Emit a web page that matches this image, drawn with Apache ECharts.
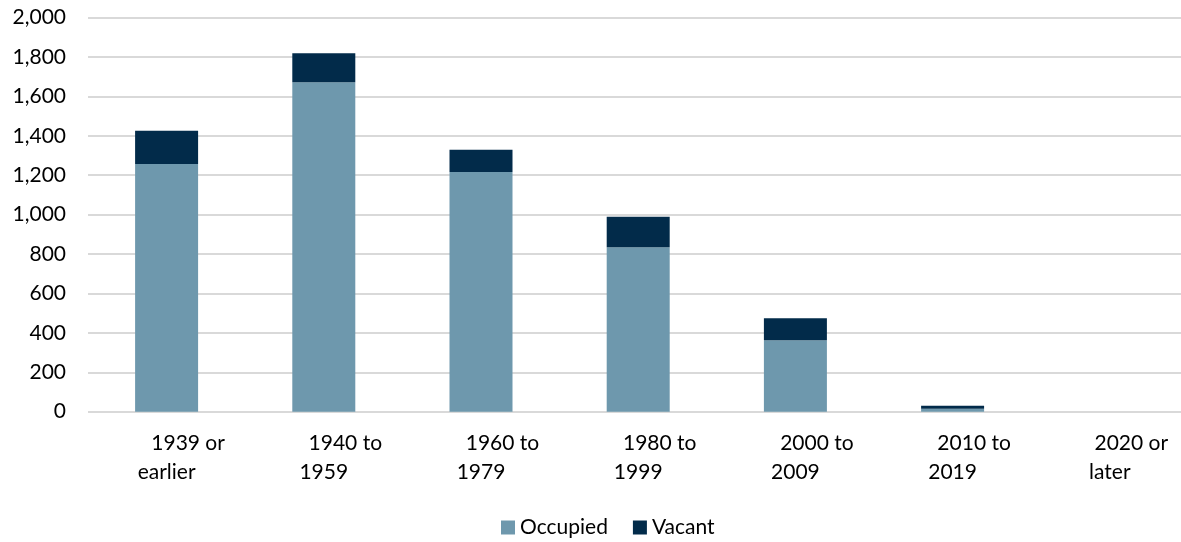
<!DOCTYPE html>
<html>
<head>
<meta charset="utf-8">
<script src="https://cdn.jsdelivr.net/npm/echarts@6/dist/echarts.min.js"></script>
<style>
html,body{margin:0;padding:0;background:#fff;overflow:hidden;}
#chart{width:1192px;height:542px;}
</style>
</head>
<body>
<div id="chart"></div>
<script>
const categoriesLine1 = ['1939 or', '1940 to', '1960 to', '1980 to', '2000 to', '2010 to', '2020 or'];
const categoriesLine2 = ['earlier', '1959', '1979', '1999', '2009', '2019', 'later'];
const occupied = [1257, 1671, 1216, 834, 362, 15, 0];
const vacant = [169, 147, 113, 155, 112, 15, 0];
const yTicks = { min: 0, max: 2000, interval: 200 };

const categories = categoriesLine1.map((a, i) => a + ' ' + categoriesLine2[i]);

const chart = echarts.init(document.getElementById('chart'));
const font = 'Lato';
chart.setOption({
  animation: false,
  textStyle: { fontFamily: font },
  grid: { left: 88, width: 1100.4, top: 17.5, bottom: 130.3, containLabel: false },
  legend: {
    left: 496, top: 512,
    itemWidth: 14, itemHeight: 14, itemGap: 25,
    icon: 'rect',
    textStyle: { fontFamily: font, fontSize: 21, color: '#000' },
    data: ['Occupied', 'Vacant']
  },
  xAxis: {
    type: 'category',
    data: categories,
    axisLine: { show: false },
    axisTick: { show: false },
    axisLabel: {
      interval: 0,
      margin: 17,
      formatter: function (v, i) {
        return '{a|' + categoriesLine1[i] + '}\n{b|' + categoriesLine2[i] + '}';
      },
      rich: {
        a: { fontFamily: font, fontSize: 21, color: '#000', lineHeight: 29, padding: [0, 0, 0, 43] },
        b: { fontFamily: font, fontSize: 21, color: '#000', lineHeight: 29 }
      }
    }
  },
  yAxis: {
    type: 'value',
    min: yTicks.min, max: yTicks.max, interval: yTicks.interval,
    axisLine: { show: false },
    axisTick: { show: false },
    axisLabel: {
      margin: 22,
      fontFamily: font, fontSize: 21, color: '#000',
      formatter: v => v.toLocaleString('en-US')
    },
    splitLine: { lineStyle: { color: '#D9D9D9', width: 2 } }
  },
  series: [
    {
      name: 'Occupied', type: 'bar', stack: 'total', data: occupied,
      barWidth: 63,
      itemStyle: { color: '#6E98AD' }
    },
    {
      name: 'Vacant', type: 'bar', stack: 'total', data: vacant,
      barWidth: 63,
      itemStyle: { color: '#022B4A' }
    }
  ]
});
</script>
</body>
</html>
